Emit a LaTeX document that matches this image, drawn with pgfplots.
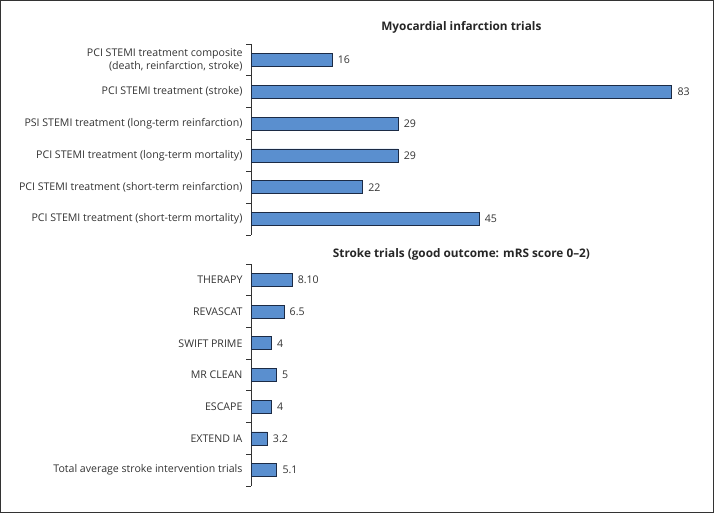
\documentclass[border=0pt]{standalone}
\usepackage{fontspec}
\setmainfont{Open Sans}
\usepackage{pgfplots}
\pgfplotsset{compat=1.18}
\definecolor{barblue}{HTML}{5A8FCF}
\definecolor{baredge}{HTML}{1C2B45}
\definecolor{txt}{HTML}{333333}

\pgfplotsset{
  hbars/.style={
    scale only axis, x=5.07pt, xmin=0, xmax=83,
    y dir=reverse, enlargelimits=false, clip=false,
    axis x line=none, axis y line*=left,
    axis line style={draw=txt, line width=0.8pt},
    major tick length=0pt, minor tick length=5pt, tick align=outside,
    minor tick style={draw=txt, line width=0.8pt},
    yticklabel style={font=\fontsize{10.6}{12.2}\selectfont, text=txt,
                      align=right, xshift=-5pt},
    title style={font=\fontsize{11.8}{13}\selectfont\bfseries, text=black!85,
                 at={(0.5,1)}, anchor=base},
    xbar, bar width=13pt, bar shift=0pt,
    nodes near coords, point meta=explicit symbolic,
    nodes near coords style={font=\fontsize{10.6}{12.2}\selectfont, text=txt,
                             anchor=west, xshift=2pt},
  },
  barsty/.style={fill=barblue, draw=baredge, line width=0.8pt},
}

\begin{document}
\begin{tikzpicture}
\useasboundingbox (0,0) rectangle (714pt,513pt);
\draw[draw=black!80, line width=1.3pt] (0.65pt,0.65pt) rectangle (713.35pt,512.35pt);

% myocardial infarction
\begin{axis}[hbars,
  at={(251pt,278pt)}, anchor=south west, height=191pt,
  ymin=0.5, ymax=6.5,
  ytick={1,...,6}, minor ytick={0.5,1.5,...,6.5},
  yticklabels={{PCI STEMI treatment composite\\(death, reinfarction, stroke)},
    {PCI STEMI treatment (stroke)},
    {PSI STEMI treatment (long-term reinfarction)},
    {PCI STEMI treatment (long-term mortality)},
    {PCI STEMI treatment (short-term reinfarction)},
    {PCI STEMI treatment (short-term mortality)}},
  title={Myocardial infarction trials}, title style={yshift=7pt},
]
\addplot[barsty] table[x=v, y=i, meta=l] {
i v l
1 16 16
2 83 83
3 29 29
4 29 29
5 22 22
6 45 45
};
\end{axis}

% stroke
\begin{axis}[hbars,
  at={(251pt,27pt)}, anchor=south west, height=222pt,
  ymin=0.5, ymax=7.5,
  ytick={1,...,7}, minor ytick={0.5,1.5,...,7.5},
  yticklabels={THERAPY, REVASCAT, SWIFT PRIME, MR CLEAN, ESCAPE, EXTEND IA,
    Total average stroke intervention trials},
  title={Stroke trials (good outcome: mRS score 0--2)}, title style={yshift=1pt},
]
\addplot[barsty] table[x=v, y=i, meta=l] {
i v l
1 8.10 8.10
2 6.5 6.5
3 4 4
4 5 5
5 4 4
6 3.2 3.2
7 5.1 5.1
};
\end{axis}
\end{tikzpicture}
\end{document}
